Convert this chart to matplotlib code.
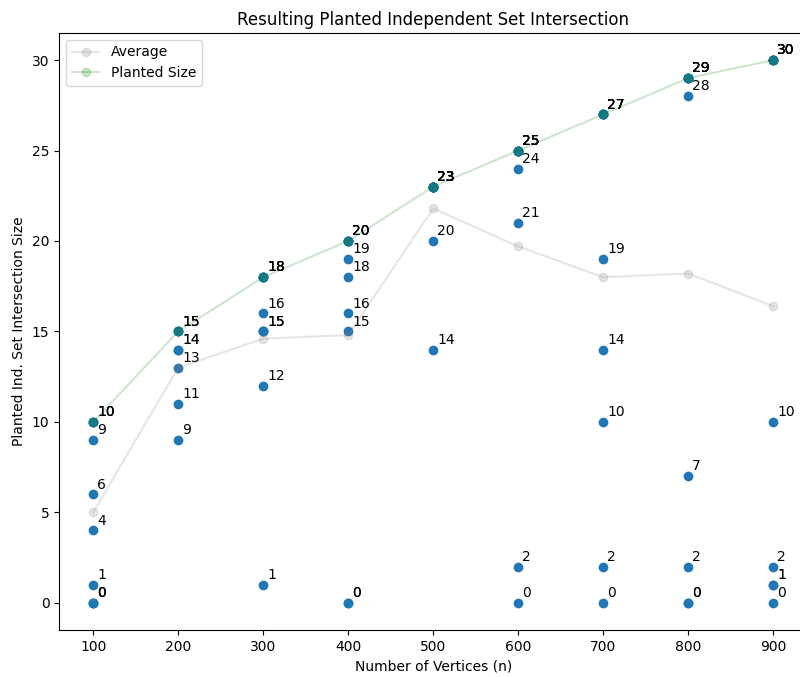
import numpy as np
import matplotlib
matplotlib.use("Agg")
import matplotlib.pyplot as plt

# vertex counts and the intersection size found in each trial
n_values = [100, 200, 300, 400, 500, 600, 700, 800, 900]
trials = {
    100: [10, 10, 10, 9, 6, 4, 1, 0, 0, 0],
    200: [15, 15, 15, 14, 14, 13, 11, 9],
    300: [18, 18, 18, 18, 16, 15, 15, 15, 12, 1],
    400: [20, 20, 20, 20, 19, 18, 16, 15, 0, 0],
    500: [23, 23, 23, 23, 23, 23, 23, 23, 20, 14],
    600: [25, 25, 25, 25, 25, 25, 24, 21, 2, 0],
    700: [27, 27, 27, 27, 27, 19, 14, 10, 2, 0],
    800: [29, 29, 29, 29, 29, 28, 7, 2, 0, 0],
    900: [30, 30, 30, 30, 30, 10, 2, 1, 1, 0],
}
average = [5.0, 13.0, 14.6, 14.8, 21.8, 19.7, 18.0, 18.2, 16.4]
planted = [10, 15, 18, 20, 23, 25, 27, 29, 30]

fig = plt.figure(figsize=(8, 6.77), dpi=100)
ax = fig.add_axes([0.074, 0.0694, 0.935, 0.882])

for n in n_values:
    ys = trials[n]
    ax.scatter([n] * len(ys), ys, color="tab:blue")
    for y in ys:
        ax.annotate(str(y), (n, y), xytext=(3, 2), textcoords="offset points",
                    ha="left", va="bottom", fontsize=10)

ax.plot(n_values, average, marker="o", color="gray", alpha=0.2, label="Average")
ax.plot(n_values, planted, marker="o", color="green", alpha=0.2, label="Planted Size")

ax.set_title("Resulting Planted Independent Set Intersection")
ax.set_xlabel("Number of Vertices (n)")
ax.set_ylabel("Planted Ind. Set Intersection Size")
ax.legend(loc="upper left")

fig.savefig("out.png", dpi=100)
